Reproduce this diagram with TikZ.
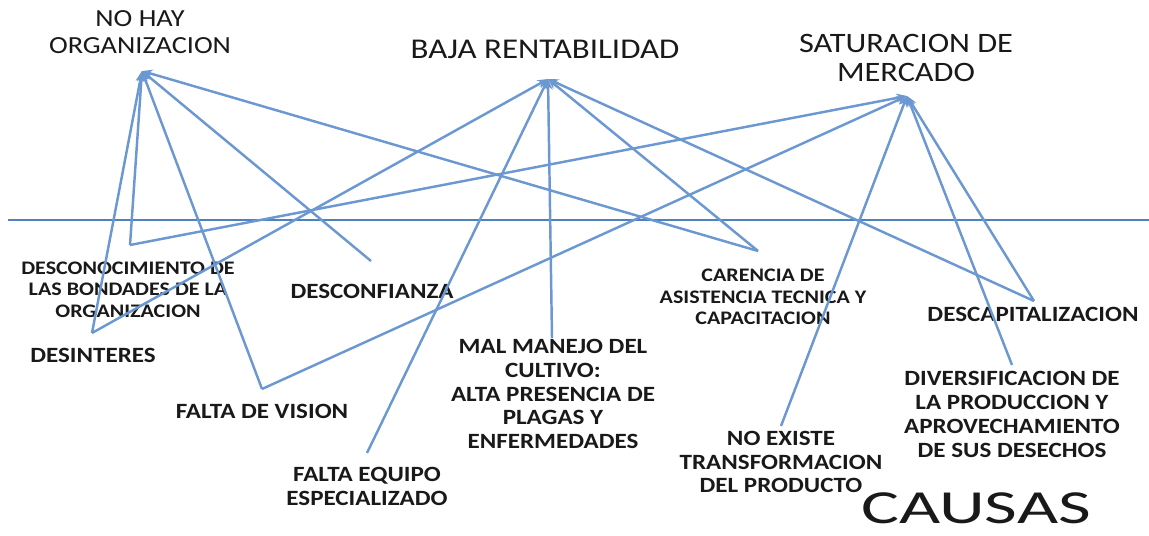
\documentclass[tikz,border=0pt]{standalone}
\usepackage{fontspec}
\setmainfont{Carlito}[FakeStretch=1.15]
\newfontfamily\causafont{Carlito}[FakeStretch=1.5]
\usepackage{xcolor}
\usepackage{tikz}
\usetikzlibrary{arrows.meta,positioning}
\definecolor{linkblue}{RGB}{108,152,210}
\definecolor{ruleblue}{RGB}{79,129,189}
\definecolor{txtgray}{RGB}{25,25,25}

\begin{document}
\begin{tikzpicture}[x=0.02cm,y=-0.02cm,
    efecto/.style={inner sep=0pt, align=center, text=txtgray, font=\fontsize{16}{17}\selectfont},
    causa/.style={inner sep=0pt, align=center, text=txtgray, font=\fontsize{12.4}{13.6}\selectfont\bfseries},
    causachica/.style={causa, font=\fontsize{10.9}{12.2}\selectfont\bfseries},
    enlace/.style={draw=linkblue, line width=1.4pt, -{Stealth[length=6pt,width=5pt]}}]
    \useasboundingbox (0,0) rectangle (1149,535);

    \node[efecto, font=\fontsize{14}{15.3}\selectfont] at (140,32.5) (org) {NO HAY\\ORGANIZACION};
    \node[efecto, font=\fontsize{16.3}{17}\selectfont] at (545,49) (rent) {BAJA RENTABILIDAD};
    \node[efecto] at (906,58) (sat) {SATURACION DE\\MERCADO};
    \coordinate (org-tip) at (142,71);
    \coordinate (rent-tip) at (548,79);
    \coordinate (sat-tip) at (907,96);

    \coordinate (hl-l) at (8,220);
    \coordinate (hl-r) at (1149,220);
    \draw[ruleblue, line width=0.8pt] (hl-l) -- (hl-r);

    \node[causachica] at (128,289.5) (descon) {DESCONOCIMIENTO DE\\LAS BONDADES DE LA\\ORGANIZACION};
    \node[causa] at (93,355) (desint) {DESINTERES};
    \node[causa] at (372,291) (desconf) {DESCONFIANZA};
    \node[causa] at (262,411) (vision) {FALTA DE VISION};
    \node[causa] at (367,486.5) (equipo) {FALTA EQUIPO\\ESPECIALIZADO};
    \node[causa] at (553,394) (manejo) {MAL MANEJO DEL\\CULTIVO:\\ALTA PRESENCIA DE\\PLAGAS Y\\ENFERMEDADES};
    \node[causachica] at (763,297) (carencia) {CARENCIA DE\\ASISTENCIA TECNICA Y\\CAPACITACION};
    \node[causa] at (781,462) (transf) {NO EXISTE\\TRANSFORMACION\\DEL PRODUCTO};
    \node[causa] at (1033,314) (descap) {DESCAPITALIZACION};
    \node[causa] at (1012,414.5) (divers) {DIVERSIFICACION DE\\LA PRODUCCION Y\\APROVECHAMIENTO\\DE SUS DESECHOS};
    \node[inner sep=0pt, text=txtgray, font=\causafont\fontsize{27}{30}\selectfont] at (976,508.5) (causas) {CAUSAS};

    \coordinate (v-descon) at (130,245);
    \coordinate (v-desint) at (92,333);
    \coordinate (v-desconf) at (371,261);
    \coordinate (v-vision) at (262,389);
    \coordinate (v-equipo) at (367,453);
    \coordinate (v-manejo) at (552,338);
    \coordinate (v-carencia) at (758,251);
    \coordinate (v-transf) at (781,426);
    \coordinate (v-descap) at (1034,301);
    \coordinate (v-divers) at (1012,365);

    \foreach \c in {v-desint,v-descon,v-vision,v-desconf,v-carencia}
        \draw[enlace] (\c) -- (org-tip);
    \foreach \c in {v-desint,v-equipo,v-manejo,v-carencia,v-descap}
        \draw[enlace] (\c) -- (rent-tip);
    \foreach \c in {v-descon,v-vision,v-transf,v-divers,v-descap}
        \draw[enlace] (\c) -- (sat-tip);
\end{tikzpicture}
\end{document}
